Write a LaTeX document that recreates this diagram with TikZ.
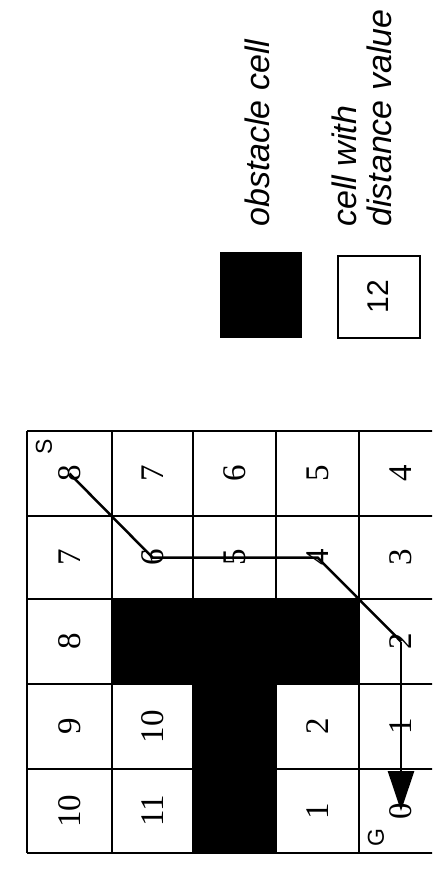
\documentclass[tikz,border=0pt]{standalone}
\usepackage{fontspec}
\setmainfont{Liberation Serif}
\newfontfamily\legsans{Liberation Sans}
\usetikzlibrary{arrows.meta}
\tikzset{
  gridline/.style={line width=2.1pt, black},
  num/.style={rotate=90, inner sep=0pt, font=\fontsize{33}{33}\selectfont},
  corner/.style={rotate=90, inner sep=0pt, font=\legsans\fontsize{23}{23}\selectfont},
  legtext/.style={rotate=90, inner sep=0pt, font=\legsans\itshape\fontsize{34}{34}\selectfont},
  pathline/.style={line width=2.5pt, black},
}
\begin{document}
\begin{tikzpicture}[x=1pt, y=-1pt]
\useasboundingbox (0,0) rectangle (432,870);
\clip (0,0) rectangle (432,870);
% obstacles
\fill[black] (112,599) rectangle (359,684);
\fill[black] (193,684) rectangle (276,853);
% grid
\foreach \yy in {431,516,599,684,769,853} \draw[gridline] (27,\yy) -- (445,\yy);
\foreach \xx in {27,112,193,276,359} \draw[gridline] (\xx,431) -- (\xx,853);
\draw[gridline] (443,431) -- (443,853);
% numbers (row 0)
\node[num] (a00) at (69.5,473.5) {8};
\node[num] (a01) at (152.5,473.5) {7};
\node[num] (a02) at (234.5,473.5) {6};
\node[num] (a03) at (317.5,473.5) {5};
\node[num] (a04) at (401,473.5) {4};
% row 1
\node[num] (a10) at (69.5,557.5) {7};
\node[num] (a11) at (152.5,557.5) {6};
\node[num] (a12) at (234.5,557.5) {5};
\node[num] (a13) at (317.5,557.5) {4};
\node[num] (a14) at (401,557.5) {3};
% row 2
\node[num] (a20) at (69.5,641.5) {8};
\node[num] (a24) at (401,641.5) {2};
% row 3
\node[num] (a30) at (69.5,726.5) {9};
\node[num] (a31) at (152.5,726.5) {10};
\node[num] (a33) at (317.5,726.5) {2};
\node[num] (a34) at (401,726.5) {1};
% row 4
\node[num] (a40) at (69.5,811) {10};
\node[num] (a41) at (152.5,811) {11};
\node[num] (a43) at (317.5,811) {1};
\node[num] (a44) at (401,811) {0};
% start / goal labels
\node[corner] (S) at (44,447) {S};
\node[corner] (G) at (376,838) {G};
% path
\draw[pathline] (a00.center) -- (a11.center) -- (a13.center) -- (a24.center);
\draw[pathline, -{Triangle[length=40pt,width=26pt]}] (a24.center) -- (a44.center);
% legend
\fill[black] (220,252) rectangle (302,338);
\node[draw, line width=2pt, minimum width=82pt, minimum height=82pt, inner sep=0pt] (box) at (378.5,296.5) {};
\node[rotate=90, inner sep=0pt, font=\legsans\fontsize{30}{30}\selectfont] (twelve) at (box.center) {12};
\node[legtext, anchor=base west] (obs) at (269,227) {obstacle cell};
\node[legtext, anchor=base west] (cw) at (356,227) {cell with};
\node[legtext, anchor=base west] (dv) at (391,227) {distance value};
\end{tikzpicture}
\end{document}
